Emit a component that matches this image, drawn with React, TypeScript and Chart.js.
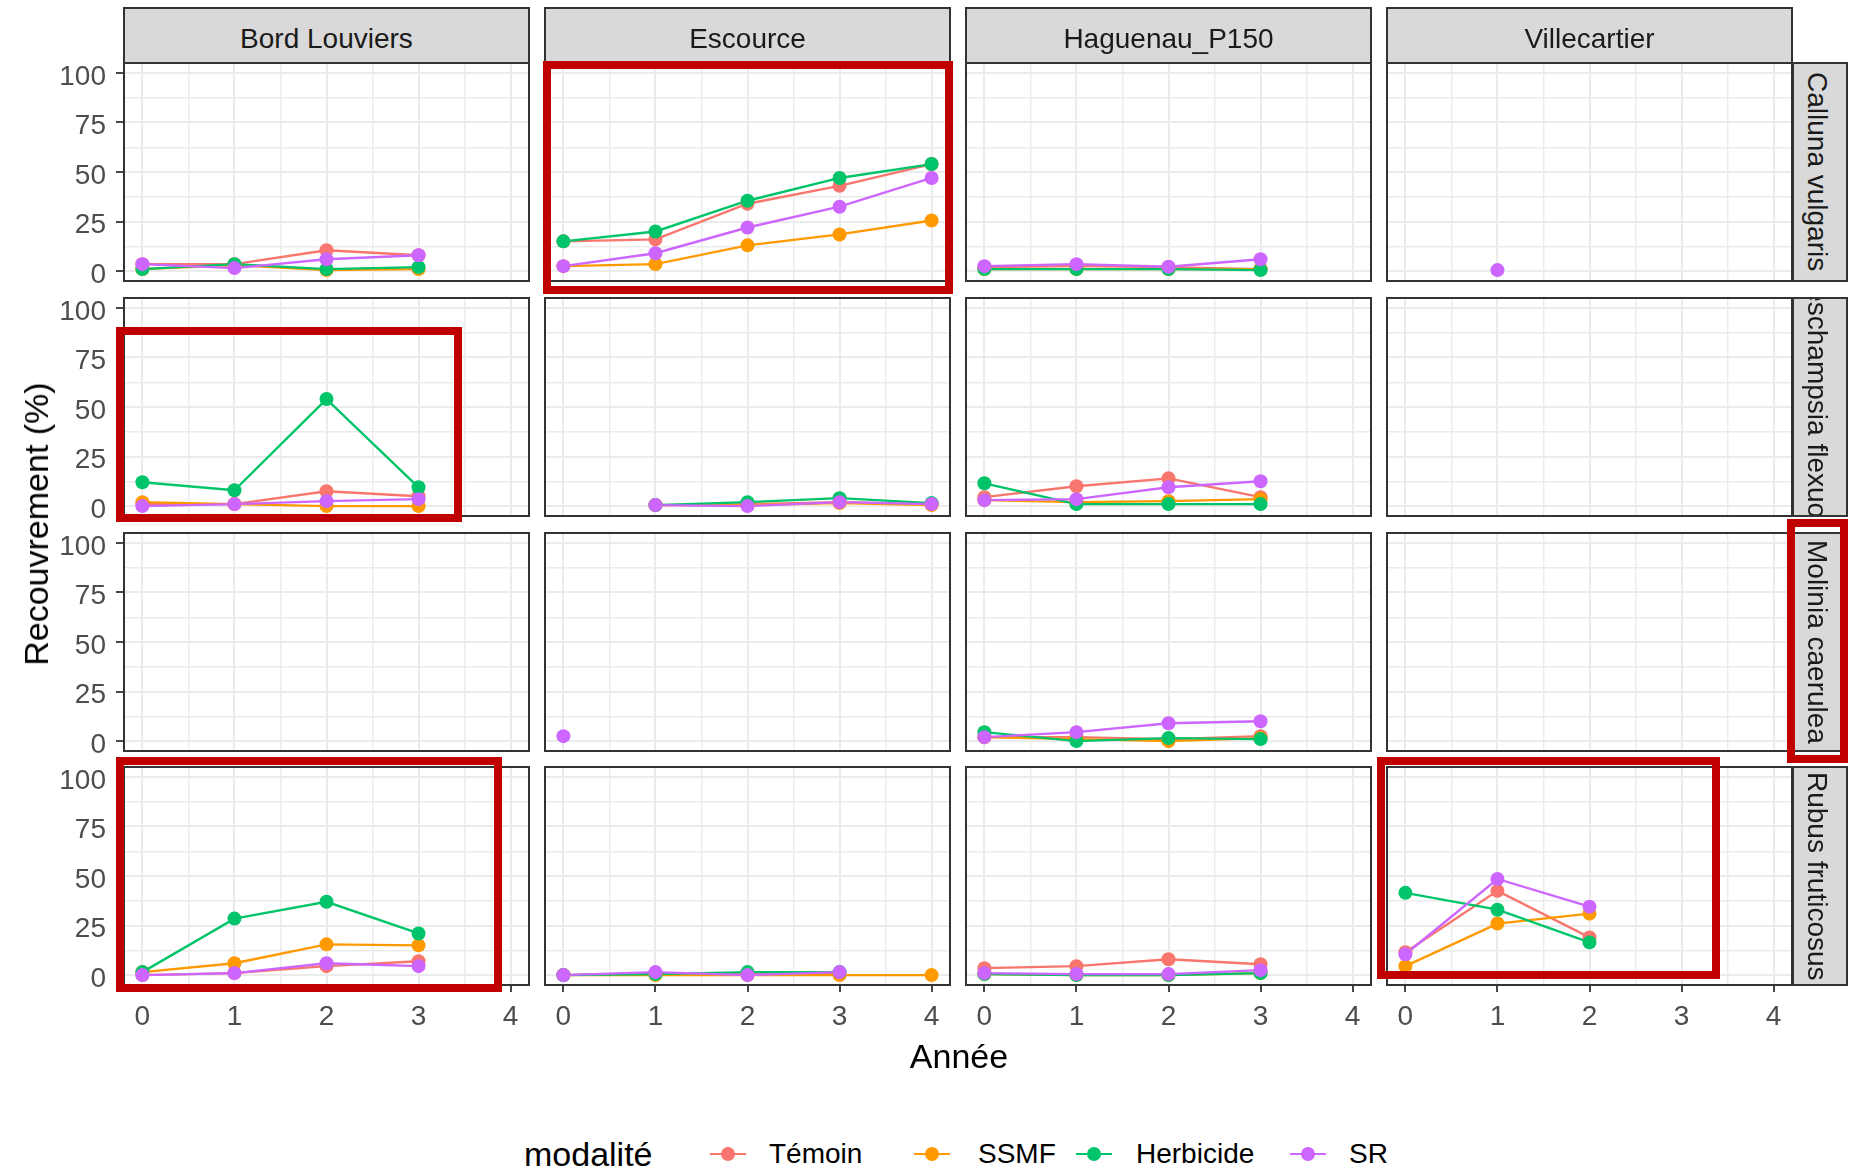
import React, { useEffect, useRef } from 'react';
import { Chart, registerables } from 'chart.js';

Chart.register(...registerables);

const FONT = '"Liberation Sans", Arial, Helvetica, sans-serif';

// ---------- data ----------
const sites = ['Bord Louviers', 'Escource', 'Haguenau_P150', 'Villecartier'];
const species = ['Calluna vulgaris', 'Deschampsia flexuosa', 'Molinia caerulea', 'Rubus fruticosus'];
const modalites = ['Témoin', 'SSMF', 'Herbicide', 'SR'];
const modaliteColors = ['#F8766D', '#FF9900', '#00C46A', '#CC66FF'];
const years = [0, 1, 2, 3, 4];
const xMajorTicks = [0, 1, 2, 3, 4];
const xMinorTicks = [0.5, 1.5, 2.5, 3.5];
const yMajorTicks = [0, 25, 50, 75, 100];
const yMinorTicks = [12.5, 37.5, 62.5, 87.5];

type Row = (number | null)[];
const _ = null;

// rows: Témoin, SSMF, Herbicide, SR ; columns: years 0..4
const callunaBord: Row[] = [
  [3.5, 3.5, 10.5, 8, _],
  [1, 3, 0.5, 1, _],
  [1, 3.5, 1, 2, _],
  [3.5, 1.5, 6, 8, _],
];
const callunaEscource: Row[] = [
  [15, 16, 34, 43, 54],
  [2.5, 3.5, 13, 18.5, 25.5],
  [15, 20, 35.5, 47, 54],
  [2.5, 9, 22, 32.5, 47],
];
const callunaHaguenau: Row[] = [
  [2, 2.5, 2, 1, _],
  [1, 1, 1, 1, _],
  [1, 1, 1, 0.5, _],
  [2.5, 3.5, 2.2, 6, _],
];
const callunaVillecartier: Row[] = [
  [_, _, _, _, _],
  [_, _, _, _, _],
  [_, _, _, _, _],
  [_, 0.5, _, _, _],
];

const deschampsiaBord: Row[] = [
  [1, 1, 7.5, 5, _],
  [2, 1, 0, 0, _],
  [12, 8, 54, 9.5, _],
  [0, 1, 2.5, 3.5, _],
];
const deschampsiaEscource: Row[] = [
  [_, 0.5, 1, 2, 1],
  [_, 0.5, 0.5, 1.5, 0.5],
  [_, 0.5, 2, 4, 1.5],
  [_, 0.5, 0, 2, 1],
];
const deschampsiaHaguenau: Row[] = [
  [4.5, 10, 14, 4.5, _],
  [3, 2, 2.5, 3.5, _],
  [11.5, 1, 1, 1, _],
  [3, 3.5, 9.5, 12.5, _],
];
const deschampsiaVillecartier: Row[] = [
  [_, _, _, _, _],
  [_, _, _, _, _],
  [_, _, _, _, _],
  [_, _, _, _, _],
];

const moliniaBord: Row[] = [
  [_, _, _, _, _],
  [_, _, _, _, _],
  [_, _, _, _, _],
  [_, _, _, _, _],
];
const moliniaEscource: Row[] = [
  [_, _, _, _, _],
  [_, _, _, _, _],
  [_, _, _, _, _],
  [2.5, _, _, _, _],
];
const moliniaHaguenau: Row[] = [
  [2, 2, 1, 2.5, _],
  [2, 1, 0, 1.5, _],
  [4.5, 0, 1.5, 1, _],
  [2, 4.5, 9, 10, _],
];
const moliniaVillecartier: Row[] = [
  [_, _, _, _, _],
  [_, _, _, _, _],
  [_, _, _, _, _],
  [_, _, _, _, _],
];

const rubusBord: Row[] = [
  [0, 1, 4.5, 7, _],
  [1.5, 6, 15.5, 15, _],
  [1.5, 28.5, 37, 21, _],
  [0, 1, 6, 4.5, _],
];
const rubusEscource: Row[] = [
  [0, 1, 1, 0.5, _],
  [0, 0, 0, 0, 0],
  [0, 0.5, 1.5, 1.5, _],
  [0, 1.5, 0, 1.5, _],
];
const rubusHaguenau: Row[] = [
  [3.5, 4.5, 8, 5.5, _],
  [0.5, 0, 0, 1, _],
  [0.5, 0, 0, 1, _],
  [1, 0.5, 0.5, 2.5, _],
];
const rubusVillecartier: Row[] = [
  [11.5, 42.5, 19, _, _],
  [4.5, 26, 31, _, _],
  [41.5, 33, 16.5, _, _],
  [10.5, 48.5, 34.5, _, _],
];

const panelData: Row[][][] = [
  [callunaBord, callunaEscource, callunaHaguenau, callunaVillecartier],
  [deschampsiaBord, deschampsiaEscource, deschampsiaHaguenau, deschampsiaVillecartier],
  [moliniaBord, moliniaEscource, moliniaHaguenau, moliniaVillecartier],
  [rubusBord, rubusEscource, rubusHaguenau, rubusVillecartier],
];

// ---------- layout ----------
const COL_LEFT = [124, 545, 966, 1387];
const PANEL_W = 405;
const ROW_TOP = [63, 298, 533, 767];
const PANEL_H = 218;
const STRIP_TOP = 7;
const STRIP_RIGHT_LEFT = 1792;
const STRIP_RIGHT_W = 56;
const PAD = 14;
const YAXIS_W = 110;
const XAXIS_H = 50;
const TICK_FS = 28;
const STRIP_FS = 28;

const redBoxes = [
  { left: 543, top: 61, width: 410, height: 233 },
  { left: 116, top: 327, width: 346, height: 195 },
  { left: 116, top: 757, width: 386, height: 235 },
  { left: 1377, top: 757, width: 343, height: 222 },
  { left: 1787, top: 519, width: 61, height: 244 },
];

const legendItems = [
  { keyLeft: 710, textLeft: 769 },
  { keyLeft: 914, textLeft: 978 },
  { keyLeft: 1076, textLeft: 1136 },
  { keyLeft: 1290, textLeft: 1349 },
];
const LEGEND_Y = 1154;

function toPoints(vals: Row) {
  const pts: { x: number; y: number }[] = [];
  vals.forEach((v, i) => {
    if (v !== null && v !== undefined) pts.push({ x: years[i], y: v });
  });
  return pts;
}

function Panel({ r, c }: { r: number; c: number }) {
  const ref = useRef<HTMLCanvasElement>(null);
  const showY = c === 0;
  const showX = r === 3;
  const left = COL_LEFT[c] - PAD - (showY ? YAXIS_W : 0);
  const top = ROW_TOP[r] - PAD;
  const w = PANEL_W + 2 * PAD + (showY ? YAXIS_W : 0);
  const h = PANEL_H + 2 * PAD + (showX ? XAXIS_H : 0);

  useEffect(() => {
    if (!ref.current) return;
    const series = panelData[r][c];
    const lineSets = series.map((vals, i) => ({
      label: modalites[i] + ' line',
      data: toPoints(vals),
      borderColor: modaliteColors[i],
      backgroundColor: modaliteColors[i],
      borderWidth: 2.4,
      pointRadius: 0,
      fill: false,
      tension: 0,
      order: 10 + (3 - i),
    }));
    const pointSets = series.map((vals, i) => ({
      label: modalites[i],
      data: toPoints(vals),
      borderColor: modaliteColors[i],
      backgroundColor: modaliteColors[i],
      pointBackgroundColor: modaliteColors[i],
      pointBorderWidth: 0,
      pointRadius: 7,
      showLine: false,
      order: 3 - i,
    }));
    const xGrid = [...xMajorTicks, ...xMinorTicks].sort((a, b) => a - b);
    const yGrid = [...yMajorTicks, ...yMinorTicks].sort((a, b) => a - b);
    const chart = new Chart(ref.current, {
      type: 'line',
      data: { datasets: [...lineSets, ...pointSets] as any },
      options: {
        animation: false,
        responsive: false,
        maintainAspectRatio: false,
        devicePixelRatio: 1,
        events: [],
        layout: { padding: PAD },
        plugins: { legend: { display: false }, tooltip: { enabled: false } },
        scales: {
          x: {
            type: 'linear',
            min: -0.2,
            max: 4.2,
            afterBuildTicks: (s: any) => {
              s.ticks = xGrid.map((v) => ({ value: v }));
            },
            afterFit: (s: any) => {
              s.height = showX ? XAXIS_H : 0;
              s.paddingLeft = 0;
              s.paddingRight = 0;
              s.paddingTop = 0;
              s.paddingBottom = 0;
            },
            border: { display: false },
            grid: {
              color: '#EBEBEB',
              lineWidth: (ctx: any) => (ctx.tick && Number.isInteger(ctx.tick.value) ? 2 : 1.4),
              drawTicks: showX,
              tickLength: 7,
              tickWidth: 1.8,
              tickColor: (ctx: any) =>
                ctx.tick && Number.isInteger(ctx.tick.value) ? '#333333' : 'rgba(0,0,0,0)',
            },
            ticks: {
              display: showX,
              autoSkip: false,
              maxRotation: 0,
              minRotation: 0,
              padding: 8,
              color: '#4D4D4D',
              font: { size: TICK_FS, family: FONT },
              callback: (v: any) => (Number.isInteger(v) && xMajorTicks.includes(v) ? String(v) : ''),
            },
          },
          y: {
            type: 'linear',
            min: -5,
            max: 105,
            afterBuildTicks: (s: any) => {
              s.ticks = yGrid.map((v) => ({ value: v }));
            },
            afterFit: (s: any) => {
              s.width = showY ? YAXIS_W : 0;
              s.paddingLeft = 0;
              s.paddingRight = 0;
              s.paddingTop = 0;
              s.paddingBottom = 0;
            },
            border: { display: false },
            grid: {
              color: '#EBEBEB',
              lineWidth: (ctx: any) => (ctx.tick && yMajorTicks.includes(ctx.tick.value) ? 2 : 1.4),
              drawTicks: showY,
              tickLength: 8,
              tickWidth: 1.8,
              tickColor: (ctx: any) =>
                ctx.tick && yMajorTicks.includes(ctx.tick.value) ? '#333333' : 'rgba(0,0,0,0)',
            },
            ticks: {
              display: showY,
              autoSkip: false,
              padding: 10,
              labelOffset: 4,
              color: '#4D4D4D',
              font: { size: TICK_FS, family: FONT },
              callback: (v: any) => (yMajorTicks.includes(v) ? String(v) : ''),
            },
          },
        },
      } as any,
    });
    return () => chart.destroy();
  }, [r, c]);

  return (
    <canvas
      ref={ref}
      width={w}
      height={h}
      style={{ position: 'absolute', left, top, width: w, height: h }}
    />
  );
}

export default function App() {
  const panels: React.ReactNode[] = [];
  for (let r = 0; r < 4; r++) {
    for (let c = 0; c < 4; c++) {
      panels.push(<Panel key={`p${r}-${c}`} r={r} c={c} />);
    }
  }
  return (
    <div
      style={{
        position: 'absolute',
        left: 0,
        top: 0,
        width: 1856,
        height: 1168,
        background: '#FFFFFF',
        overflow: 'hidden',
        fontFamily: FONT,
      }}
    >
      {panels}
      {/* panel borders */}
      {ROW_TOP.map((t, r) =>
        COL_LEFT.map((l, c) => (
          <div
            key={`b${r}-${c}`}
            style={{
              position: 'absolute',
              left: l - 1,
              top: t - 1,
              width: PANEL_W + 2,
              height: PANEL_H + 2,
              border: '2px solid #333333',
              boxSizing: 'border-box',
              pointerEvents: 'none',
            }}
          />
        ))
      )}
      {/* top strips */}
      {sites.map((s, c) => (
        <div
          key={`st${c}`}
          style={{
            position: 'absolute',
            left: COL_LEFT[c] - 1,
            top: STRIP_TOP,
            width: PANEL_W + 2,
            height: ROW_TOP[0] - STRIP_TOP + 1,
            background: '#D9D9D9',
            border: '2px solid #333333',
            boxSizing: 'border-box',
            overflow: 'hidden',
            display: 'flex',
            alignItems: 'center',
            justifyContent: 'center',
            color: '#1A1A1A',
            fontSize: STRIP_FS,
            lineHeight: `${STRIP_FS}px`,
            paddingTop: 7,
          }}
        >
          <span style={{ whiteSpace: 'nowrap' }}>{s}</span>
        </div>
      ))}
      {/* right strips */}
      {species.map((s, r) => (
        <div
          key={`sr${r}`}
          style={{
            position: 'absolute',
            left: STRIP_RIGHT_LEFT,
            top: ROW_TOP[r] - 1,
            width: STRIP_RIGHT_W,
            height: PANEL_H + 2,
            background: '#D9D9D9',
            border: '2px solid #333333',
            boxSizing: 'border-box',
            overflow: 'hidden',
            display: 'flex',
            alignItems: 'center',
            justifyContent: 'center',
            color: '#1A1A1A',
            fontSize: STRIP_FS,
            lineHeight: `${STRIP_FS}px`,
            paddingRight: 6,
          }}
        >
          <span style={{ whiteSpace: 'nowrap', writingMode: 'vertical-rl', flexShrink: 0 }}>{s}</span>
        </div>
      ))}
      {/* highlight boxes */}
      {redBoxes.map((b, i) => (
        <div
          key={`rb${i}`}
          style={{
            position: 'absolute',
            left: b.left,
            top: b.top,
            width: b.width,
            height: b.height,
            border: '8px solid #C00000',
            boxSizing: 'border-box',
            pointerEvents: 'none',
          }}
        />
      ))}
      {/* axis titles */}
      <div
        style={{
          position: 'absolute',
          left: 959,
          top: 1056 - 17,
          transform: 'translateX(-50%)',
          fontSize: 34,
          lineHeight: '34px',
          color: '#000000',
          whiteSpace: 'nowrap',
        }}
      >
        Année
      </div>
      <div
        style={{
          position: 'absolute',
          left: 36,
          top: 524,
          transform: 'translate(-50%, -50%) rotate(-90deg)',
          fontSize: 34,
          lineHeight: '34px',
          color: '#000000',
          whiteSpace: 'nowrap',
        }}
      >
        Recouvrement (%)
      </div>
      {/* legend */}
      <div
        style={{
          position: 'absolute',
          left: 524,
          top: LEGEND_Y - 17,
          fontSize: 34,
          lineHeight: '34px',
          color: '#000000',
          whiteSpace: 'nowrap',
        }}
      >
        modalité
      </div>
      {modalites.map((m, i) => (
        <React.Fragment key={`lg${i}`}>
          <div
            style={{
              position: 'absolute',
              left: legendItems[i].keyLeft,
              top: LEGEND_Y - 1,
              width: 36,
              height: 2.4,
              background: modaliteColors[i],
            }}
          />
          <div
            style={{
              position: 'absolute',
              left: legendItems[i].keyLeft + 18 - 7,
              top: LEGEND_Y - 7,
              width: 14,
              height: 14,
              borderRadius: '50%',
              background: modaliteColors[i],
            }}
          />
          <div
            style={{
              position: 'absolute',
              left: legendItems[i].textLeft,
              top: LEGEND_Y - 14,
              fontSize: 28,
              lineHeight: '28px',
              color: '#000000',
              whiteSpace: 'nowrap',
            }}
          >
            {m}
          </div>
        </React.Fragment>
      ))}
    </div>
  );
}
